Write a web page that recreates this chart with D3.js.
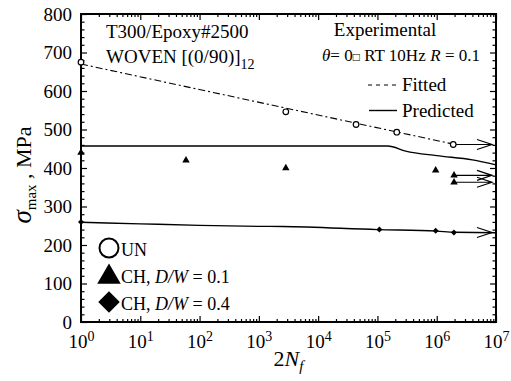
<!DOCTYPE html>
<html>
<head>
<meta charset="utf-8">
<script src="https://cdn.jsdelivr.net/npm/d3@7"></script>
<style>
  body { margin: 0; background: #fff; }
  .domain { display: none; }
</style>
</head>
<body>
<div id="chart"></div>
<script>
// experimental points (cycles 2Nf, max stress MPa)
const unCycles = [1, 2850, 43600, 212000, 1.9e6];
const unStress = [675, 546, 513, 493, 461];
const triCycles = [1, 59, 2850, 9.6e5, 1.96e6, 1.96e6];
const triStress = [440, 420, 400, 394, 381, 363];
const diaCycles = [1, 1.08e5, 9.6e5, 1.95e6];
const diaStress = [260, 240, 237, 232.5];

// run-out specimens (arrows to the right)
const runCycles = [1.9e6, 1.96e6, 1.96e6, 1.95e6];
const runStress = [461, 381, 363, 232.5];

// fitted S-N line for UN
const fitCycles = [1, 2.2e6];
const fitStress = [670, 460];

// predicted curves
const predTriCycles = [1, 1.5e5, 3e5, 1e6, 4e6, 1e7];
const predTriStress = [457, 457, 444, 432, 421, 408];
const predDiaCycles = [1, 10, 100, 1000, 2500, 1e5, 1e6, 2e6, 1e7];
const predDiaStress = [259, 255, 251, 248.5, 248, 240, 236, 233, 232];

const xMajor = [1, 10, 100, 1e3, 1e4, 1e5, 1e6, 1e7];
const yMajor = [0, 100, 200, 300, 400, 500, 600, 700, 800];

const FONT = '"Liberation Serif", "DejaVu Serif", serif';
const width = 511, height = 381;
const margin = { top: 14, right: 15, bottom: 59, left: 81 };
const x0 = margin.left, x1 = width - margin.right;
const y0 = height - margin.bottom, y1 = margin.top;

const svg = d3.select('#chart').append('svg')
  .attr('width', width)
  .attr('height', height)
  .style('font-family', FONT);

const x = d3.scaleLog().domain([1, 1e7]).range([x0, x1]);
const y = d3.scaleLinear().domain([0, 800]).range([y0, y1]);

// minor ticks
const xMinor = [];
for (let e = 0; e < 7; e++) for (let k = 2; k <= 9; k++) xMinor.push(k * Math.pow(10, e));
const yMinor = d3.range(0, 801, 20).filter(v => v % 100 !== 0);

function addAxis(axisFn, values, size, transform, labels) {
  const g = svg.append('g')
    .attr('transform', transform)
    .call(axisFn.tickValues(values).tickSize(-size).tickSizeOuter(0).tickFormat(labels ? null : ''));
  g.attr('font-family', null).style('font-family', FONT);
  g.selectAll('line').attr('stroke', '#000').attr('stroke-width', 1.2);
  return g;
}

// bottom
const xb = addAxis(d3.axisBottom(x), xMajor, 6, `translate(0,${y0})`, true);
xb.selectAll('text')
  .attr('y', 13)
  .attr('font-size', 19)
  .attr('fill', '#000')
  .each(function (d) {
    const t = d3.select(this).text('10');
    t.append('tspan').attr('dy', -7).attr('font-size', 14).text(Math.round(Math.log10(d)));
  });
addAxis(d3.axisBottom(x), xMinor, 3, `translate(0,${y0})`, false);
// top
addAxis(d3.axisTop(x), xMajor, 6, `translate(0,${y1})`, false);
addAxis(d3.axisTop(x), xMinor, 3, `translate(0,${y1})`, false);
// left
const yl = addAxis(d3.axisLeft(y), yMajor, 6, `translate(${x0},0)`, true);
yl.selectAll('text')
  .attr('x', -9)
  .attr('font-size', 19)
  .attr('fill', '#000');
addAxis(d3.axisLeft(y), yMinor, 3.5, `translate(${x0},0)`, false);
// right
addAxis(d3.axisRight(y), yMajor, 6, `translate(${x1},0)`, false);
addAxis(d3.axisRight(y), yMinor, 3.5, `translate(${x1},0)`, false);

// frame
svg.append('rect')
  .attr('x', x0).attr('y', y1)
  .attr('width', x1 - x0).attr('height', y0 - y1)
  .attr('fill', 'none').attr('stroke', '#000').attr('stroke-width', 2);

const line = d3.line().x(d => x(d[0])).y(d => y(d[1]));
const curve = d3.line().x(d => x(d[0])).y(d => y(d[1])).curve(d3.curveMonotoneX);

// fitted line
svg.append('path')
  .attr('d', line(d3.zip(fitCycles, fitStress)))
  .attr('fill', 'none').attr('stroke', '#000').attr('stroke-width', 1.1)
  .attr('stroke-dasharray', '7,3,2,3');

// predicted lines
[[predTriCycles, predTriStress], [predDiaCycles, predDiaStress]].forEach(([cx, cy]) => {
  svg.append('path')
    .attr('d', curve(d3.zip(cx, cy)))
    .attr('fill', 'none').attr('stroke', '#000').attr('stroke-width', 1.4);
});

// run-out arrows
const tipX = x(1e7) - 4;
d3.zip(runCycles, runStress).forEach(([c, s]) => {
  const px = x(c), py = y(s);
  svg.append('path')
    .attr('d', `M${px},${py}H${tipX}M${tipX - 15},${py - 5}L${tipX},${py}L${tipX - 15},${py + 5}`)
    .attr('fill', 'none').attr('stroke', '#000').attr('stroke-width', 1.2);
});

// markers
svg.selectAll('.un').data(d3.zip(unCycles, unStress)).enter()
  .append('circle').attr('class', 'un')
  .attr('cx', d => x(d[0])).attr('cy', d => y(d[1])).attr('r', 2.8)
  .attr('fill', '#fff').attr('stroke', '#000').attr('stroke-width', 1.2);

const triSym = d3.symbol().type(d3.symbolTriangle).size(24);
svg.selectAll('.tri').data(d3.zip(triCycles, triStress)).enter()
  .append('path').attr('class', 'tri')
  .attr('d', triSym)
  .attr('transform', d => `translate(${x(d[0])},${y(d[1])})`)
  .attr('fill', '#000');

const diaSym = d3.symbol().type(d3.symbolSquare).size(18);
svg.selectAll('.dia').data(d3.zip(diaCycles, diaStress)).enter()
  .append('path').attr('class', 'dia')
  .attr('d', diaSym)
  .attr('transform', d => `translate(${x(d[0])},${y(d[1])}) rotate(45)`)
  .attr('fill', '#000');

// annotations
const txt = (tx, ty, size) => svg.append('text').attr('x', tx).attr('y', ty)
  .attr('font-size', size).attr('fill', '#000');

txt(106, 38, 19).text('T300/Epoxy#2500');
const wv = txt(106, 63, 19).text('WOVEN [(0/90)]');
wv.append('tspan').attr('dy', 6).attr('font-size', 14).text('12');

txt(385, 36, 19).attr('text-anchor', 'middle').text('Experimental');
const cond = txt(322, 61, 17);
cond.append('tspan').attr('font-style', 'italic').text('θ');
cond.append('tspan').text('= 0');
cond.append('tspan').attr('font-size', 12).text('□');
cond.append('tspan').text(' RT 10Hz');
const rr = txt(480, 61, 17).attr('text-anchor', 'end');
rr.append('tspan').attr('font-style', 'italic').text('R');
rr.append('tspan').text(' = 0.1');

svg.append('line').attr('x1', 368).attr('x2', 398).attr('y1', 85).attr('y2', 85)
  .attr('stroke', '#000').attr('stroke-width', 1.1).attr('stroke-dasharray', '4,4');
txt(402, 91, 19).text('Fitted');
svg.append('line').attr('x1', 369).attr('x2', 397).attr('y1', 110.5).attr('y2', 110.5)
  .attr('stroke', '#000').attr('stroke-width', 1.4);
txt(402, 117, 19).text('Predicted');

// marker legend
svg.append('circle').attr('cx', 109).attr('cy', 248).attr('r', 9.5)
  .attr('fill', 'none').attr('stroke', '#000').attr('stroke-width', 2);
txt(121, 256, 18).text('UN');
svg.append('path').attr('d', d3.symbol().type(d3.symbolTriangle).size(240))
  .attr('transform', 'translate(109,277)').attr('fill', '#000');
const l2 = txt(121, 283, 18).text('CH, ');
l2.append('tspan').attr('font-style', 'italic').text('D/W');
l2.append('tspan').text(' = 0.1');
svg.append('path').attr('d', d3.symbol().type(d3.symbolSquare).size(230))
  .attr('transform', 'translate(109,302) rotate(45)').attr('fill', '#000');
const l3 = txt(121, 310, 18).text('CH, ');
l3.append('tspan').attr('font-style', 'italic').text('D/W');
l3.append('tspan').text(' = 0.4');

// axis titles
const yt = svg.append('text')
  .attr('transform', 'translate(31,175) rotate(-90)')
  .attr('text-anchor', 'middle').attr('font-size', 22).attr('fill', '#000');
yt.append('tspan').attr('font-style', 'italic').attr('font-size', 27).text('σ');
yt.append('tspan').attr('dy', 5).attr('font-size', 15).text('max');
yt.append('tspan').attr('dy', -5).text(' , MPa');

const xt = svg.append('text')
  .attr('x', (x0 + x1) / 2).attr('y', 366)
  .attr('text-anchor', 'middle').attr('font-size', 22).attr('fill', '#000');
xt.append('tspan').text('2');
xt.append('tspan').attr('font-style', 'italic').text('N');
xt.append('tspan').attr('font-style', 'italic').attr('dy', 5).attr('font-size', 15).text('f');
</script>
</body>
</html>
